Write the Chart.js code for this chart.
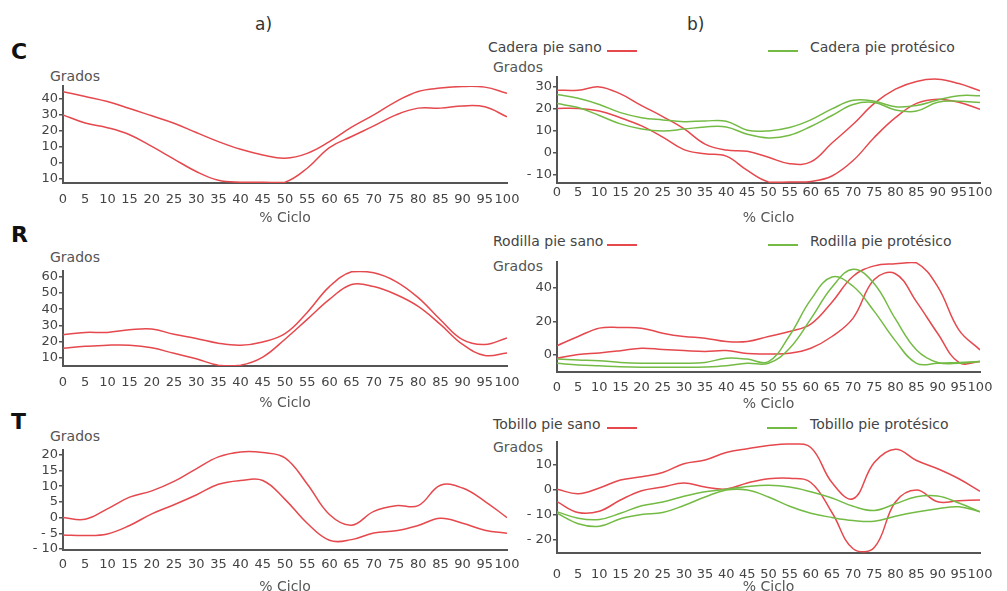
<!DOCTYPE html>
<html>
<head>
<meta charset="utf-8">
<script src="https://cdn.jsdelivr.net/npm/chart.js@4.4.1/dist/chart.umd.min.js"></script>
<style>
body{margin:0;width:1007px;height:591px;background:#fff;position:relative;overflow:hidden;font-family:"DejaVu Sans",Verdana,sans-serif;color:#444}
canvas{position:absolute}
.t{position:absolute;white-space:nowrap;line-height:1.2}
.g{font-size:14px;color:#555}
.lg{font-size:14px;color:#444}
.big{font-size:22px;font-weight:bold;color:#111}
.k{position:absolute;height:2px;width:30px}
</style>
</head>
<body>
<div class="t" style="left:255px;top:14px;font-size:17px;color:#333">a)</div>
<div class="t" style="left:687px;top:14px;font-size:17px;color:#333">b)</div>
<div class="t big" style="left:11px;top:39px">C</div>
<div class="t big" style="left:11px;top:222px">R</div>
<div class="t big" style="left:11px;top:409px">T</div>

<div class="t g" style="left:50px;top:68px">Grados</div>
<div class="t g" style="left:50px;top:249px">Grados</div>
<div class="t g" style="left:50px;top:428px">Grados</div>
<div class="t g" style="left:493px;top:59px">Grados</div>
<div class="t g" style="left:493px;top:258px">Grados</div>
<div class="t g" style="left:493px;top:439px">Grados</div>

<div class="t lg" style="left:488px;top:39px">Cadera pie sano</div>
<div class="k" style="left:607px;top:50px;background:#e5484d"></div>
<div class="k" style="left:768px;top:50px;background:#74bb45"></div>
<div class="t lg" style="left:810px;top:39px">Cadera pie protésico</div>

<div class="t lg" style="left:493px;top:233px">Rodilla pie sano</div>
<div class="k" style="left:607px;top:244px;background:#e5484d"></div>
<div class="k" style="left:768px;top:244px;background:#74bb45"></div>
<div class="t lg" style="left:810px;top:233px">Rodilla pie protésico</div>

<div class="t lg" style="left:493px;top:416px">Tobillo pie sano</div>
<div class="k" style="left:607px;top:427px;background:#e5484d"></div>
<div class="k" style="left:767px;top:427px;background:#74bb45"></div>
<div class="t lg" style="left:810px;top:416px">Tobillo pie protésico</div>

<canvas id="caderaA"></canvas>
<canvas id="rodillaA"></canvas>
<canvas id="tobilloA"></canvas>
<canvas id="caderaB"></canvas>
<canvas id="rodillaB"></canvas>
<canvas id="tobilloB"></canvas>

<script>
// % del ciclo de marcha
var pct = [0,5,10,15,20,25,30,35,40,45,50,55,60,65,70,75,80,85,90,95,100];

// a) bandas pie sano
var caderaA_sup = [44.5,41.5,38.3,34,29.4,24.8,19,13.3,8.5,5,3,6,13.3,22.3,30,38.3,44.6,46.7,47.7,47.3,43.5];
var caderaA_inf = [30,24.9,22,17.6,10.3,2.4,-5.3,-10.8,-12,-12,-12,-3.3,9.6,16.5,23.1,30,34.2,34.2,35.6,35,28.8];
var rodillaA_sup = [24.3,25.7,25.7,27.3,27.8,24.5,22,19,17.8,19.8,24.9,38,53.9,63,62.4,57,47.1,33.5,21.2,18.2,22.3];
var rodillaA_inf = [16,17.1,17.8,17.8,16.2,12.8,9.5,5.5,5.5,10.5,21.5,33.7,46,55.2,53.9,49,41.7,30.6,18.3,11.5,13];
var tobilloA_sup = [0,-0.5,2.8,6.5,8.5,11.5,15.5,19.3,20.9,20.7,19,10.7,1,-2.4,2,3.8,3.8,10.3,9.4,5.2,0];
var tobilloA_inf = [-5.5,-5.7,-5.2,-2.5,1.2,4.1,7.2,10.6,11.8,11.8,5.8,-1.8,-7.2,-7,-4.9,-4.2,-2.5,-0.2,-1.8,-4,-5];

// b) pie sano vs pie protesico
var caderaSano_sup = [28.5,28.5,30,26.8,21.5,16.5,11,4,1.3,0.7,-2,-4.9,-4.1,4.5,13,22.5,29,32.5,33.5,31.5,28.2];
var caderaSano_inf = [20.2,20.2,19,16,12.3,7.2,1.5,-0.4,-1.5,-8,-13.2,-13.2,-13,-10.5,-3.5,7,16,22.5,24.4,23,19.8];
var caderaProt_sup = [26.5,24.8,22,18.3,16,15,14.2,14.5,14.4,10.3,10,11.5,15,20,23.9,23.5,21,21.5,24,26,26];
var caderaProt_inf = [22.4,20.6,17,13.2,10.9,10,10.8,11.8,11.8,8.5,6.8,8,12,17,22,22.9,19.5,19,23,23.5,22.9];

var rodillaSano_1 = [5.5,11,16,16.4,16,13,11,10,8,8,11,14,18.4,31.5,47,53.2,54.5,55,40.8,15,3];
var rodillaSano_2 = [-2,0.3,1.2,2.5,4,3.2,2.6,2.1,2.6,0.8,0.6,1,4,11,22,45,48.5,31.7,12.8,-4.5,-4];
var rodillaProt_1 = [-2.5,-3,-3.5,-4.5,-5,-5,-5,-4.5,-2,-2.5,-4,11.6,33,46.5,41,26,8.4,-5,-5,-4.5,-4];
var rodillaProt_2 = [-5,-6,-6.5,-7,-7.3,-7.4,-7.4,-7.2,-6.5,-5,-5,4,21.5,40.4,51.2,42.5,21.5,3,-4.5,-5,-4];

var tobilloSano_1 = [0.3,-1.5,0.8,4,5.3,7,10.5,12,15,16.5,17.8,18.4,17,3,-3.5,11,16.3,11.8,8.5,4.5,-0.5];
var tobilloSano_2 = [-4.7,-9,-8.5,-4,-0.3,1.2,2.8,1.2,0.4,2.8,4.5,4.7,3,-9,-23.5,-23,-4.8,0,-4.7,-4.3,-4];
var tobilloProt_1 = [-8.7,-11.3,-11.8,-9.3,-6.3,-4.8,-2.5,-0.7,0.3,1.4,1.9,1.2,-0.7,-3.2,-6.5,-8.2,-5.5,-2.7,-2.4,-5.2,-8.7];
var tobilloProt_2 = [-9.3,-13.5,-14.5,-11.5,-9.8,-9,-6.2,-2.8,0,0,-2.8,-6.5,-9.3,-11,-12.2,-12.5,-10.5,-8.8,-7.5,-6.7,-8.7];

// y ticks (valores y texto tal cual aparece)
var caderaA_ticks = [-10,0,10,20,30,40];
var caderaA_labels = ['10','0','10','20','30','40'];
var rodillaA_ticks = [10,20,30,40,50,60];
var rodillaA_labels = ['10','20','30','40','50','60'];
var tobilloA_ticks = [-10,-5,0,5,10,15,20];
var tobilloA_labels = ['- 10','- 5','0','5','10','15','20'];
var caderaB_ticks = [-10,0,10,20,30];
var caderaB_labels = ['- 10','0','10','20','30'];
var rodillaB_ticks = [0,20,40];
var rodillaB_labels = ['0','20','40'];
var tobilloB_ticks = [-20,-10,0,10];
var tobilloB_labels = ['- 20','- 10','0','10'];

var RED = '#e5484d', GREEN = '#74bb45';

Chart.defaults.font.family = '"DejaVu Sans", Verdana, sans-serif';
Chart.defaults.font.size = 13;
Chart.defaults.color = '#444';

function line(values, color){
    return {
        data: values.map(function(v, i){ return {x: pct[i], y: v}; }),
        borderColor: color,
        borderWidth: 1.5,
        pointRadius: 0,
        tension: 0.4,
        fill: false
    };
}

// box: canvas left/right, plot area edges, y range, tick label padding, title centre
function createPanel(id, box, yTicks, yLabels, datasets){
    var top = box.plotT - 10;
    var bottom = box.titleY + 9;
    var cv = document.getElementById(id);
    cv.width = box.right - box.left;
    cv.height = bottom - top;
    cv.style.left = box.left + 'px';
    cv.style.top = top + 'px';
    return new Chart(cv.getContext('2d'), {
        type: 'line',
        data: { datasets: datasets },
        options: {
            responsive: false,
            animation: false,
            devicePixelRatio: 1,
            layout: { padding: { top: 10, right: box.right - box.plotR, left: 0, bottom: 0 } },
            plugins: { legend: { display: false }, tooltip: { enabled: false } },
            scales: {
                x: {
                    type: 'linear',
                    min: 0, max: 100,
                    afterFit: function(s){ s.height = bottom - box.plotB; },
                    ticks: { stepSize: 5, autoSkip: false, maxRotation: 0, padding: box.tickPad, color: '#444' },
                    grid: { display: false, drawTicks: false },
                    border: { display: true, color: '#555', width: 2 },
                    title: { display: true, text: '% Ciclo', color: '#555', font: { size: 14 }, padding: 0 }
                },
                y: {
                    min: box.yMin, max: box.yMax,
                    afterFit: function(s){ s.width = box.plotL - box.left; },
                    afterBuildTicks: function(s){ s.ticks = yTicks.map(function(v){ return {value: v}; }); },
                    ticks: {
                        autoSkip: false, padding: 1, color: '#444',
                        callback: function(value){ var i = yTicks.indexOf(value); return i < 0 ? '' : yLabels[i]; }
                    },
                    grid: { drawOnChartArea: false, drawTicks: true, tickLength: 4, color: '#555', lineWidth: 1.5 },
                    border: { display: true, color: '#555', width: 2 }
                }
            }
        }
    });
}

createPanel('caderaA', {left: 10, right: 540, plotL: 63, plotR: 507, plotT: 86, plotB: 183, yMin: -12.5, yMax: 48, tickPad: 9, titleY: 218},
    caderaA_ticks, caderaA_labels, [line(caderaA_sup, RED), line(caderaA_inf, RED)]);
createPanel('rodillaA', {left: 10, right: 540, plotL: 63, plotR: 507, plotT: 271, plotB: 366, yMin: 5, yMax: 63.5, tickPad: 9, titleY: 403},
    rodillaA_ticks, rodillaA_labels, [line(rodillaA_sup, RED), line(rodillaA_inf, RED)]);
createPanel('tobilloA', {left: 10, right: 540, plotL: 63, plotR: 507, plotT: 450, plotB: 550, yMin: -10.3, yMax: 21.5, tickPad: 7, titleY: 587},
    tobilloA_ticks, tobilloA_labels, [line(tobilloA_sup, RED), line(tobilloA_inf, RED)]);

createPanel('caderaB', {left: 470, right: 1007, plotL: 557, plotR: 980, plotT: 77, plotB: 183, yMin: -13.7, yMax: 34.5, tickPad: 2, titleY: 218},
    caderaB_ticks, caderaB_labels,
    [line(caderaProt_sup, GREEN), line(caderaProt_inf, GREEN), line(caderaSano_sup, RED), line(caderaSano_inf, RED)]);
createPanel('rodillaB', {left: 470, right: 1007, plotL: 557, plotR: 980, plotT: 262, plotB: 372, yMin: -10.2, yMax: 55.5, tickPad: 8, titleY: 404},
    rodillaB_ticks, rodillaB_labels,
    [line(rodillaProt_1, GREEN), line(rodillaProt_2, GREEN), line(rodillaSano_1, RED), line(rodillaSano_2, RED)]);
createPanel('tobilloB', {left: 470, right: 1007, plotL: 557, plotR: 980, plotT: 442, plotB: 553, yMin: -25.2, yMax: 19.2, tickPad: 14, titleY: 587},
    tobilloB_ticks, tobilloB_labels,
    [line(tobilloProt_1, GREEN), line(tobilloProt_2, GREEN), line(tobilloSano_1, RED), line(tobilloSano_2, RED)]);
</script>
</body>
</html>
